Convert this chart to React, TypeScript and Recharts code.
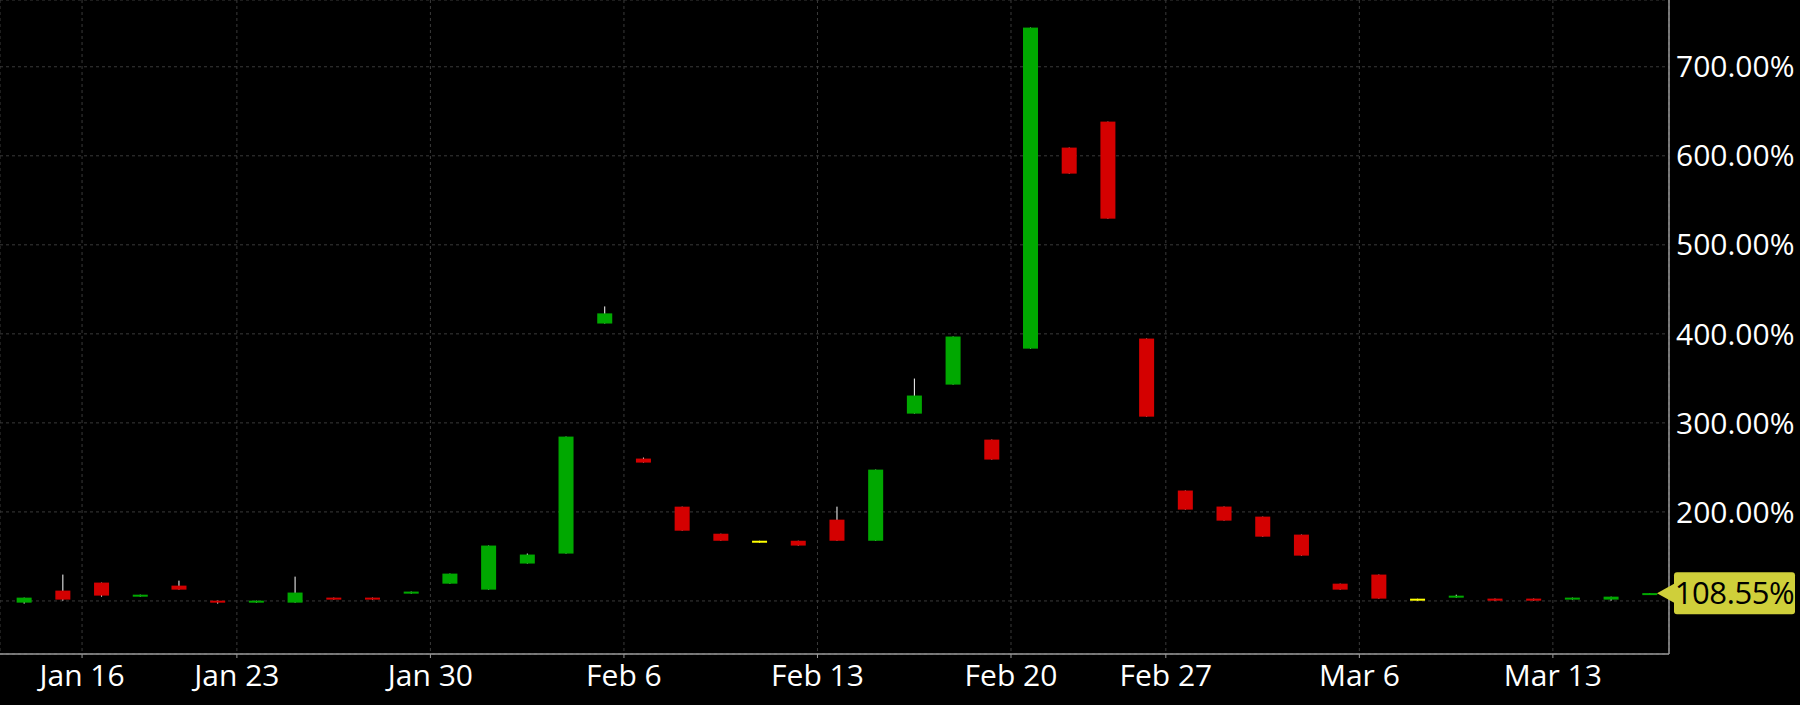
import React from 'react';
import {
  Bar,
  CartesianGrid,
  ComposedChart,
  ReferenceDot,
  XAxis,
  YAxis,
} from 'recharts';

// trading days, Jan 12 – Mar 15
const days = [
  'Jan 12', 'Jan 13', 'Jan 17', 'Jan 18', 'Jan 19', 'Jan 20',
  'Jan 23', 'Jan 24', 'Jan 25', 'Jan 26', 'Jan 27',
  'Jan 30', 'Jan 31', 'Feb 1', 'Feb 2', 'Feb 3',
  'Feb 6', 'Feb 7', 'Feb 8', 'Feb 9', 'Feb 10',
  'Feb 13', 'Feb 14', 'Feb 15', 'Feb 16', 'Feb 17',
  'Feb 21', 'Feb 22', 'Feb 23', 'Feb 24',
  'Feb 27', 'Feb 28', 'Mar 1', 'Mar 2', 'Mar 3',
  'Mar 6', 'Mar 7', 'Mar 8', 'Mar 9', 'Mar 10',
  'Mar 13', 'Mar 14', 'Mar 15',
];

const opens = [
  98.1, 111.6, 120.6, 104.8, 117.2, 100.3,
  98.1, 98.1, 103.7, 103.7, 108.2,
  119.4, 112.7, 142.0, 153.2, 411.6,
  259.9, 205.9, 175.5, 166.5, 167.6,
  191.3, 167.6, 310.4, 343.0, 281.2,
  383.4, 609.2, 638.4, 394.7,
  224.0, 206.0, 194.7, 174.5, 119.4,
  129.6, 101.4, 103.7, 102.6, 102.6,
  101.5, 101.5, 106.8,
];

const highs = [
  103.7, 129.6, 120.6, 107.0, 122.8, 100.3,
  100.3, 127.3, 103.7, 103.7, 110.5,
  130.7, 162.2, 153.2, 284.6, 430.8,
  261.0, 205.9, 175.5, 167.6, 167.6,
  205.9, 247.5, 349.8, 397.0, 281.2,
  744.0, 609.2, 638.4, 394.7,
  224.0, 206.0, 194.7, 174.5, 119.4,
  129.6, 102.5, 107.0, 102.6, 102.6,
  103.7, 104.8, 108.55,
];

const lows = [
  97.0, 100.3, 104.8, 104.8, 112.7, 97.0,
  98.1, 98.1, 101.5, 101.5, 108.2,
  119.4, 112.7, 142.0, 153.2, 411.6,
  255.4, 178.9, 167.6, 165.4, 162.2,
  167.6, 167.6, 310.4, 343.0, 258.8,
  383.4, 580.0, 529.4, 307.0,
  202.6, 190.2, 172.2, 150.9, 112.7,
  102.6, 100.3, 103.7, 100.3, 100.3,
  101.5, 100.3, 106.8,
];

const closes = [
  103.7, 101.5, 106.0, 107.0, 112.7, 98.1,
  100.3, 109.4, 101.5, 101.5, 110.5,
  130.7, 162.2, 152.1, 284.6, 423.0,
  255.4, 178.9, 167.6, 166.5, 162.2,
  167.6, 247.5, 330.7, 397.0, 258.8,
  744.0, 580.0, 529.4, 307.0,
  202.6, 190.2, 172.2, 150.9, 112.7,
  102.6, 101.4, 105.9, 100.3, 100.3,
  103.7, 104.8, 108.55,
];

// week separators sit between the last day of one week and the first of the next
const weekTicks = [1.5, 5.5, 10.5, 15.5, 20.5, 25.5, 29.5, 34.5, 39.5];
const weekLabels = ['Jan 16', 'Jan 23', 'Jan 30', 'Feb 6', 'Feb 13', 'Feb 20', 'Feb 27', 'Mar 6', 'Mar 13'];

const pctTicks = [100, 200, 300, 400, 500, 600, 700];

const FONT = '"Open Sans", "Liberation Sans", sans-serif';
const UP = '#00a800';
const DOWN = '#d40000';
const FLAT = '#ffff00';

const data = days.map((day, i) => ({
  i,
  day,
  open: opens[i],
  high: highs[i],
  low: lows[i],
  close: closes[i],
  range: [lows[i], highs[i]],
}));

const lastClose = closes[closes.length - 1];

function Candle(props: any) {
  const { x, y, width, height, payload } = props;
  if (x == null || y == null || !payload) return null;
  const { open, close, high, low } = payload;
  const k = height / (high - low);
  const yOf = (v: number) => y + (high - v) * k;
  const cx = x + width / 2;
  const color = close > open ? UP : close < open ? DOWN : FLAT;
  const top = yOf(Math.max(open, close));
  const bottom = yOf(Math.min(open, close));
  let bodyH = bottom - top;
  let bodyY = top;
  if (bodyH < 2) {
    bodyY = (top + bottom) / 2 - 1;
    bodyH = 2;
  }
  return (
    <g>
      <line x1={cx} x2={cx} y1={y} y2={y + height} stroke="#ffffff" strokeWidth={1} />
      <rect x={x} y={bodyY} width={width} height={bodyH} fill={color} />
    </g>
  );
}

function PriceTag(props: any) {
  const { cx, cy } = props;
  if (cx == null || cy == null) return null;
  const left = cx + 5;
  const w = 121;
  const h = 42;
  return (
    <g>
      <polygon
        points={`${cx - 12},${cy} ${left + 1},${cy - 10} ${left + 1},${cy + 10}`}
        fill="#cfcf3a"
      />
      <rect x={left} y={cy - h / 2} width={w} height={h} rx={3} ry={3} fill="#cfcf3a" />
      <text
        x={left + w / 2}
        y={cy + 11}
        textAnchor="middle"
        fill="#000"
        fontSize={31}
        letterSpacing={-0.4}
        fontFamily={FONT}
      >
        {`${lastClose.toFixed(2)}%`}
      </text>
    </g>
  );
}

export default function App() {
  return (
    <div style={{ position: 'fixed', left: 0, top: 0, width: 1800, height: 705, background: '#000' }}>
      <ComposedChart
        width={1800}
        height={705}
        data={data}
        margin={{ top: 0, right: 0, left: 0, bottom: 0 }}
      >
        <CartesianGrid stroke="#3a3a3a" strokeDasharray="3 3" />
        <XAxis
          dataKey="i"
          type="number"
          domain={[-0.62, 42.5]}
          allowDataOverflow
          ticks={weekTicks}
          interval={0}
          tickFormatter={(v: number) => weekLabels[weekTicks.indexOf(v)] ?? ''}
          height={51}
          axisLine={{ stroke: '#9a9a9a', strokeWidth: 1.5 }}
          tickLine={{ stroke: '#9a9a9a' }}
          tickSize={4}
          tickMargin={7}
          tick={{ fill: '#ffffff', fontSize: 30, fontFamily: FONT }}
        />
        <YAxis
          orientation="right"
          type="number"
          domain={[40.4, 775]}
          allowDataOverflow
          ticks={pctTicks}
          interval={0}
          tickFormatter={(v: number) => (v === 100 ? '' : `${v.toFixed(2)}%`)}
          width={131}
          axisLine={{ stroke: '#9a9a9a', strokeWidth: 1.5 }}
          tickLine={false}
          tickSize={0}
          tickMargin={7}
          tick={{ fill: '#ffffff', fontSize: 30, fontFamily: FONT, textAnchor: 'start' }}
        />
        <Bar dataKey="range" barSize={15} shape={<Candle />} isAnimationActive={false} />
        <ReferenceDot x={42.5} y={lastClose} ifOverflow="visible" shape={<PriceTag />} />
      </ComposedChart>
    </div>
  );
}
